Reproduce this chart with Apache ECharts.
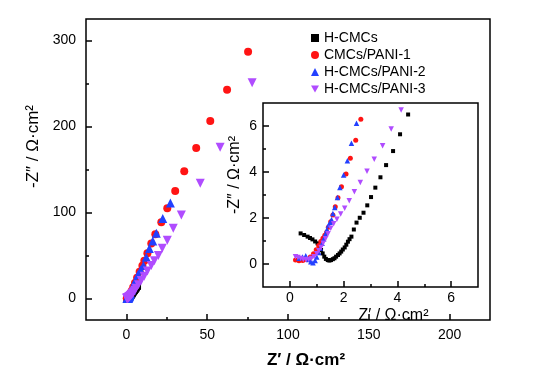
<!DOCTYPE html>
<html>
<head>
<meta charset="utf-8">
<script src="https://cdn.jsdelivr.net/npm/echarts@6/dist/echarts.min.js"></script>
<style>
  html, body { margin: 0; padding: 0; background: #fff; }
  #chart { width: 536px; height: 377px; }
</style>
</head>
<body>
<div id="chart"></div>
<script>
// Nyquist data, Z' and -Z'' in ohm*cm2
const hcmcsX = [0.40, 0.53, 0.66, 0.75, 0.84, 0.94, 1.03, 1.10, 1.16, 1.22, 1.28, 1.34, 1.41, 1.47, 1.53, 1.60, 1.66, 1.72, 1.79, 1.85, 1.91, 1.97, 2.04, 2.10, 2.16, 2.22, 2.29, 2.38, 2.48, 2.60, 2.74, 2.88, 3.02, 3.18, 3.37, 3.58, 3.84, 4.10, 4.40, 4.8, 5.3, 5.9, 6.5, 7.2]
const hcmcsY = [1.33, 1.26, 1.19, 1.13, 1.07, 0.98, 0.90, 0.76, 0.61, 0.46, 0.32, 0.22, 0.17, 0.15, 0.17, 0.21, 0.25, 0.32, 0.39, 0.46, 0.54, 0.63, 0.72, 0.84, 0.97, 1.08, 1.19, 1.50, 1.80, 2.01, 2.23, 2.55, 2.91, 3.32, 3.77, 4.30, 4.91, 5.64, 6.50, 7.5, 8.7, 10.1, 11.7, 13.5]

const pani1X = [0.21, 0.34, 0.48, 0.62, 0.76, 0.88, 0.98, 1.07, 1.15, 1.23, 1.30, 1.37, 1.43, 1.52, 1.60, 1.69, 1.79, 1.92, 2.09, 2.25, 2.45, 2.64, 3.3, 4.2, 5.3, 6.6, 8.2, 9.9, 11.1, 13.0, 15.4, 17.9, 21.6, 25.3, 30.2, 35.8, 43.2, 51.9, 62.3, 75.3]
const pani1Y = [0.17, 0.14, 0.15, 0.20, 0.30, 0.45, 0.62, 0.80, 0.98, 1.12, 1.25, 1.38, 1.60, 1.84, 2.13, 2.49, 2.88, 3.36, 3.91, 4.60, 5.38, 6.29, 9, 13, 18, 24, 31, 38, 44, 52.5, 64, 74.7, 88.7, 105, 125, 148, 175, 206.5, 242.7, 287]

const pani2X = [0.34, 0.47, 0.59, 0.70, 0.78, 0.86, 0.94, 1.00, 1.07, 1.13, 1.20, 1.26, 1.32, 1.38, 1.44, 1.50, 1.55, 1.60, 1.67, 1.77, 1.86, 2.00, 2.14, 2.29, 2.48, 3.2, 4.3, 5.6, 7.2, 8.8, 10.5, 12.3, 14.2, 16.3, 18.5, 22.5, 27.2]
const pani2Y = [0.25, 0.30, 0.36, 0.20, 0.10, 0.05, 0.15, 0.30, 0.50, 0.70, 0.90, 1.10, 1.30, 1.50, 1.70, 1.82, 1.94, 2.20, 2.46, 2.89, 3.33, 3.87, 4.49, 5.25, 6.12, 10, 15, 21, 28, 33, 38.5, 48, 58, 67, 76, 93, 111]

const pani3X = [0.21, 0.30, 0.40, 0.50, 0.60, 0.70, 0.80, 0.90, 1.00, 1.08, 1.16, 1.24, 1.33, 1.42, 1.52, 1.63, 1.75, 1.89, 2.04, 2.21, 2.40, 2.62, 2.87, 3.14, 3.45, 3.77, 4.14, 4.6, 5.2, 6.0, 7.5, 9.2, 11.0, 13.0, 15.4, 17.3, 19.8, 22.2, 25.3, 29.0, 34.0, 45.7, 58.0, 77.8]
const pani3Y = [0.32, 0.28, 0.24, 0.20, 0.19, 0.20, 0.24, 0.32, 0.45, 0.58, 0.72, 0.90, 1.10, 1.32, 1.55, 1.75, 1.95, 2.17, 2.42, 2.75, 3.14, 3.54, 4.03, 4.55, 5.14, 5.87, 6.70, 7.8, 9.5, 12, 16, 21, 26, 32, 38.5, 44, 50, 58.3, 67.7, 81.7, 97, 134, 176, 251]

const seriesNames = ['H-CMCs', 'CMCs/PANI-1', 'H-CMCs/PANI-2', 'H-CMCs/PANI-3']

// tick values
const mainXMajor = [0, 50, 100, 150, 200]
const mainXMinor = [25, 75, 125, 175]
const mainYMajor = [0, 100, 200, 300]
const mainYMinor = [50, 150, 250]
const insetMajor = [0, 2, 4, 6]
const insetMinor = [1, 3, 5]

const colors = ['#000000', '#ff1414', '#2340ff', '#b04cff']
const symbols = ['rect', 'circle', 'triangle', 'triangle']
const rotates = [0, 0, 0, 180]
const mainSizes = [6, 8, 9, 9]
const insetSizes = [4, 5, 5.5, 5.5]

const font = 'Liberation Sans, Arial, Helvetica, sans-serif'

function zip (xs, ys) {
  return xs.map((x, i) => [x, ys[i]])
}

const allData = [zip(hcmcsX, hcmcsY), zip(pani1X, pani1Y), zip(pani2X, pani2Y), zip(pani3X, pani3Y)]

// one axis with labels + major ticks, and a twin carrying only the minor ticks
function axis (grid, pos, min, max, major, minor, opts) {
  const majorAxis = Object.assign({
    type: 'value', gridIndex: grid, position: pos, min: min, max: max,
    splitLine: { show: false },
    axisLine: { show: false, onZero: false },
    axisTick: { show: true, inside: true, length: 6, customValues: major, lineStyle: { color: '#000', width: 1.5 } },
    nameLocation: 'middle'
  }, opts)
  const minorAxis = {
    type: 'value', gridIndex: grid, position: pos, min: min, max: max,
    splitLine: { show: false },
    axisLine: { show: false, onZero: false },
    axisTick: { show: true, inside: true, length: 3, customValues: minor, lineStyle: { color: '#000', width: 1.5 } },
    axisLabel: { show: false }
  }
  return [majorAxis, minorAxis]
}

const xAxes = [].concat(
  axis(0, 'bottom', -25, 225, mainXMajor, mainXMinor, {
    name: 'Z\u2032 / \u03a9\u00b7cm\u00b2', nameGap: 32,
    axisLabel: { customValues: mainXMajor, color: '#000', fontSize: 14, fontFamily: font, margin: 8 },
    nameTextStyle: { color: '#000', fontSize: 17, fontFamily: font, fontWeight: 'bold', padding: [0, 0, 0, 36] }
  }),
  axis(1, 'bottom', -1, 7, insetMajor, insetMinor, {
    name: 'Z\u2032 / \u03a9\u00b7cm\u00b2', nameGap: 21,
    axisLabel: { customValues: insetMajor, color: '#000', fontSize: 14, fontFamily: font, margin: 4 },
    nameTextStyle: { color: '#000', fontSize: 16, fontFamily: font, padding: [0, 0, 0, 46] }
  })
)
const yAxes = [].concat(
  axis(0, 'left', -25, 325, mainYMajor, mainYMinor, {
    name: '-Z\u2033 / \u03a9\u00b7cm\u00b2', nameGap: 40,
    axisLabel: { customValues: mainYMajor, color: '#000', fontSize: 14, fontFamily: font, margin: 10 },
    nameTextStyle: { color: '#000', fontSize: 17, fontFamily: font, padding: [0, 0, 0, 46] }
  }),
  axis(1, 'left', -1, 7, insetMajor, insetMinor, {
    name: '-Z\u2033 / \u03a9\u00b7cm\u00b2', nameGap: 20,
    axisLabel: { customValues: insetMajor, color: '#000', fontSize: 14, fontFamily: font, margin: 6 },
    nameTextStyle: { color: '#000', fontSize: 16, fontFamily: font, padding: [0, 0, 0, 40] }
  })
)

const series = []
allData.forEach((data, i) => {
  series.push({
    name: seriesNames[i], type: 'scatter', xAxisIndex: 0, yAxisIndex: 0,
    data: data, symbol: symbols[i], symbolRotate: rotates[i], symbolSize: mainSizes[i],
    itemStyle: { color: colors[i], opacity: 1 }, z: 2 + i
  })
})
allData.forEach((data, i) => {
  series.push({
    name: seriesNames[i], type: 'scatter', xAxisIndex: 2, yAxisIndex: 2,
    data: data, symbol: symbols[i], symbolRotate: rotates[i], symbolSize: insetSizes[i],
    itemStyle: { color: colors[i], opacity: 1 }, z: 12 + i, clip: true
  })
})

const chart = echarts.init(document.getElementById('chart'), null, { renderer: 'canvas' })
chart.setOption({
  backgroundColor: '#fff',
  animation: false,
  grid: [
    { left: 86, top: 19, width: 404, height: 301, show: true, borderColor: '#000', borderWidth: 1.5 },
    { left: 263, top: 103, width: 215, height: 184, show: true, borderColor: '#000', borderWidth: 1.5, backgroundColor: '#fff' }
  ],
  legend: {
    orient: 'vertical', left: 306, top: 26, itemGap: 3,
    itemWidth: 8, itemHeight: 8,
    textStyle: { color: '#000', fontSize: 14, fontFamily: font },
    data: [
      { name: seriesNames[0], icon: 'rect', itemStyle: { color: colors[0] } },
      { name: seriesNames[1], icon: 'circle', itemStyle: { color: colors[1] } },
      { name: seriesNames[2], icon: 'triangle', itemStyle: { color: colors[2] } },
      { name: seriesNames[3], icon: 'path://M0,0 L10,0 L5,9 Z', itemStyle: { color: colors[3] } }
    ]
  },
  xAxis: xAxes,
  yAxis: yAxes,
  series: series
})
</script>
</body>
</html>
